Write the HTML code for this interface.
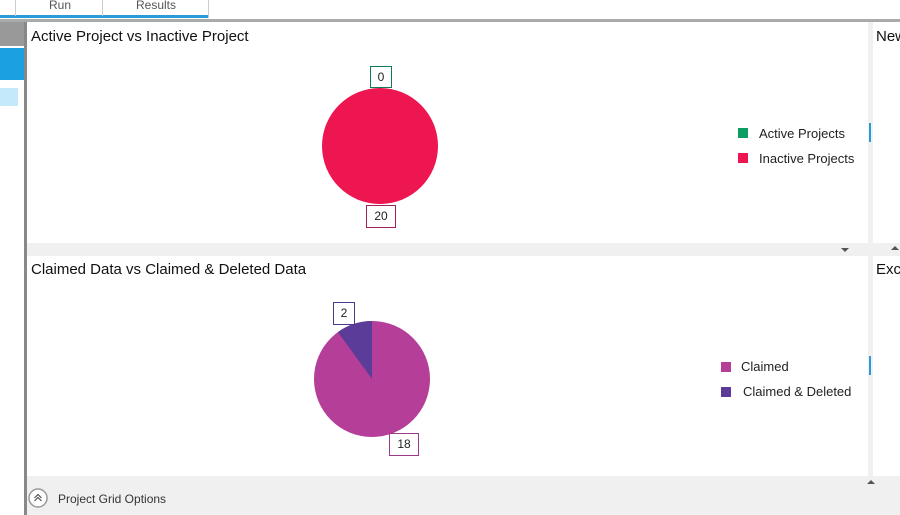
<!DOCTYPE html>
<html><head><style>
body{margin:0;width:900px;height:515px;overflow:hidden;background:#fff;font-family:"Liberation Sans",sans-serif;position:relative}
.a{position:absolute}
.t{font-size:15px;color:#111}
.lg{font-size:13px;color:#222}
.lb{position:absolute;border:1px solid;background:#fff;font-size:12px;color:#222;text-align:center;box-sizing:border-box}
</style></head><body>
<div class="a" style="left:0;top:0;width:900px;height:19px;background:#fff"></div>
<div class="a" style="left:0;top:15px;width:208px;height:3px;background:#2a9bd8"></div>
<div class="a" style="left:15px;top:0;width:1px;height:16px;background:#ccc"></div>
<div class="a" style="left:102px;top:0;width:1px;height:16px;background:#ccc"></div>
<div class="a" style="left:208px;top:0;width:1px;height:18px;background:#ccc"></div>
<div class="a" style="left:49px;top:-2px;font-size:12px;color:#555">Run</div>
<div class="a" style="left:136px;top:-2px;font-size:12px;color:#555">Results</div>
<div class="a" style="left:0;top:19px;width:900px;height:3px;background:#aaa"></div>
<div class="a" style="left:0;top:22px;width:24px;height:24px;background:#999"></div>
<div class="a" style="left:0;top:48px;width:24px;height:32px;background:#1ba1e2"></div>
<div class="a" style="left:0;top:88px;width:18px;height:18px;background:#c4e9fb"></div>
<div class="a" style="left:24px;top:22px;width:3px;height:493px;background:#888"></div>
<div class="a" style="left:27px;top:243px;width:873px;height:13px;background:#f0f0f0"></div>
<div class="a" style="left:868px;top:22px;width:5px;height:454px;background:#f0f0f0"></div>
<div class="a" style="left:27px;top:476px;width:873px;height:39px;background:#f0f0f0"></div>
<div class="a" style="left:869px;top:123px;width:2px;height:19px;background:#2a9bd8"></div>
<div class="a" style="left:869px;top:356px;width:2px;height:19px;background:#2a9bd8"></div>
<div class="a t" style="left:31px;top:28px">Active Project vs Inactive Project</div>
<div class="a t" style="left:876px;top:28px">New</div>
<div class="a t" style="left:31px;top:261px">Claimed Data vs Claimed &amp; Deleted Data</div>
<div class="a t" style="left:876px;top:261px">Excl</div>
<div class="a" style="left:841px;top:248px;width:0;height:0;border-left:4px solid transparent;border-right:4px solid transparent;border-top:4px solid #555"></div>
<div class="a" style="left:891px;top:246px;width:0;height:0;border-left:4px solid transparent;border-right:4px solid transparent;border-bottom:4px solid #555"></div>
<div class="a" style="left:867px;top:480px;width:0;height:0;border-left:4px solid transparent;border-right:4px solid transparent;border-bottom:4px solid #555"></div>
<svg class="a" style="left:0;top:0" width="900" height="515">
<circle cx="380" cy="146" r="58" fill="#ed1651"/>
<circle cx="372" cy="379" r="58" fill="#b53f98"/>
<path d="M372 379 L372 321 A58 58 0 0 0 337.9 332.1 Z" fill="#5b3c98"/>
<circle cx="38" cy="498" r="9" fill="#fff" stroke="#999" stroke-width="1.5"/>
<path d="M34.5 498 L38 494.5 L41.5 498 M34.5 501 L38 497.5 L41.5 501" fill="none" stroke="#555" stroke-width="1.2"/>
</svg>
<div class="lb" style="left:370px;top:66px;width:22px;height:22px;border-color:#0f7a5a;line-height:20px">0</div>
<div class="lb" style="left:366px;top:205px;width:30px;height:23px;border-color:#a0205a;line-height:21px">20</div>
<div class="lb" style="left:333px;top:302px;width:22px;height:23px;border-color:#4a3a88;line-height:21px">2</div>
<div class="lb" style="left:389px;top:433px;width:30px;height:23px;border-color:#9a3a88;line-height:21px">18</div>
<div class="a" style="left:738px;top:128px;width:10px;height:10px;background:#0c9d63"></div>
<div class="a lg" style="left:759px;top:126px">Active Projects</div>
<div class="a" style="left:738px;top:153px;width:10px;height:10px;background:#ed1651"></div>
<div class="a lg" style="left:759px;top:151px">Inactive Projects</div>
<div class="a" style="left:721px;top:362px;width:10px;height:10px;background:#b53f98"></div>
<div class="a lg" style="left:741px;top:359px">Claimed</div>
<div class="a" style="left:721px;top:387px;width:10px;height:10px;background:#5b3c98"></div>
<div class="a lg" style="left:743px;top:384px">Claimed &amp; Deleted</div>
<div class="a" style="left:58px;top:492px;font-size:12px;color:#333">Project Grid Options</div>
</body></html>
